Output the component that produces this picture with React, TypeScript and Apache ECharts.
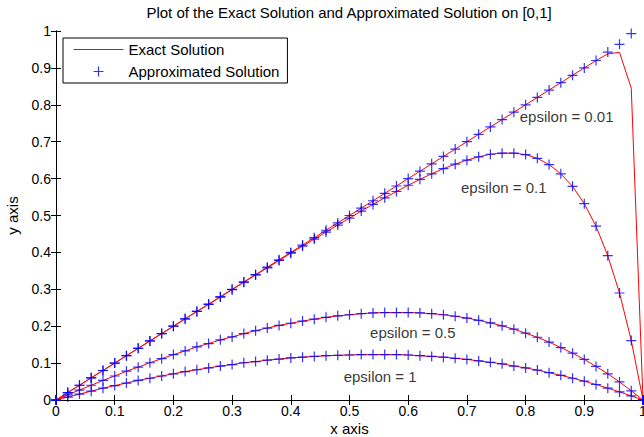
import React, { useEffect, useRef } from "react";
import * as echarts from "echarts";

const xs = [0, 0.02, 0.04, 0.06, 0.08, 0.1, 0.12, 0.14, 0.16, 0.18, 0.2, 0.22, 0.24, 0.26, 0.28, 0.3, 0.32, 0.34, 0.36, 0.38, 0.4, 0.42, 0.44, 0.46, 0.48, 0.5, 0.52, 0.54, 0.56, 0.58, 0.6, 0.62, 0.64, 0.66, 0.68, 0.7, 0.72, 0.74, 0.76, 0.78, 0.8, 0.82, 0.84, 0.86, 0.88, 0.9, 0.92, 0.94, 0.96, 0.98, 1];

const exact1 = [0, 0.008, 0.016, 0.024, 0.032, 0.039, 0.046, 0.053, 0.059, 0.065, 0.071, 0.077, 0.082, 0.087, 0.092, 0.096, 0.101, 0.104, 0.108, 0.111, 0.114, 0.116, 0.118, 0.12, 0.121, 0.122, 0.123, 0.123, 0.123, 0.123, 0.122, 0.12, 0.118, 0.116, 0.113, 0.11, 0.106, 0.102, 0.098, 0.092, 0.087, 0.081, 0.074, 0.067, 0.059, 0.051, 0.042, 0.032, 0.022, 0.011, 0];

const exact05 = [0, 0.014, 0.027, 0.04, 0.053, 0.065, 0.078, 0.089, 0.101, 0.112, 0.123, 0.133, 0.144, 0.153, 0.163, 0.171, 0.18, 0.188, 0.195, 0.202, 0.208, 0.214, 0.219, 0.224, 0.228, 0.231, 0.234, 0.236, 0.237, 0.237, 0.237, 0.236, 0.234, 0.231, 0.227, 0.222, 0.216, 0.209, 0.201, 0.192, 0.181, 0.17, 0.157, 0.142, 0.127, 0.11, 0.091, 0.071, 0.049, 0.025, 0];

const exact01 = [0, 0.02, 0.04, 0.06, 0.08, 0.1, 0.12, 0.14, 0.16, 0.18, 0.2, 0.22, 0.24, 0.259, 0.279, 0.299, 0.319, 0.339, 0.358, 0.378, 0.398, 0.417, 0.436, 0.455, 0.474, 0.493, 0.512, 0.53, 0.548, 0.565, 0.582, 0.598, 0.613, 0.627, 0.639, 0.65, 0.659, 0.666, 0.669, 0.669, 0.665, 0.655, 0.638, 0.613, 0.579, 0.532, 0.471, 0.391, 0.29, 0.161, 0];

const exact001 = [0, 0.02, 0.04, 0.06, 0.08, 0.1, 0.12, 0.14, 0.16, 0.18, 0.2, 0.22, 0.24, 0.26, 0.28, 0.3, 0.32, 0.34, 0.36, 0.38, 0.4, 0.42, 0.44, 0.46, 0.48, 0.5, 0.52, 0.54, 0.56, 0.58, 0.6, 0.62, 0.64, 0.66, 0.68, 0.7, 0.72, 0.74, 0.76, 0.78, 0.8, 0.82, 0.84, 0.86, 0.88, 0.9, 0.92, 0.938, 0.942, 0.845, 0];

const approx1 = exact1;
const approx05 = exact05;
const approx01 = exact01;
const approx001 = [0, 0.02, 0.04, 0.06, 0.08, 0.1, 0.12, 0.14, 0.16, 0.18, 0.2, 0.22, 0.24, 0.26, 0.28, 0.3, 0.32, 0.34, 0.36, 0.38, 0.4, 0.42, 0.44, 0.46, 0.48, 0.5, 0.52, 0.54, 0.56, 0.58, 0.6, 0.62, 0.64, 0.66, 0.68, 0.7, 0.72, 0.74, 0.76, 0.78, 0.8, 0.82, 0.84, 0.86, 0.88, 0.9, 0.92, 0.943, 0.964, 0.993, 0];

const annotTexts = ["epsilon = 0.01", "epsilon = 0.1", "epsilon = 0.5", "epsilon = 1"];
const annotX = [0.79, 0.69, 0.535, 0.49];
const annotY = [0.767, 0.577, 0.182, 0.065];

const FONT = "'Liberation Sans', Arial, sans-serif";
const PLUS = "path://M5,0L5,10M0,5L10,5";

function pairs(ys: number[]) {
  return xs.map((x, i) => [x, ys[i]]);
}

export default function App() {
  const ref = useRef<HTMLDivElement>(null);
  useEffect(() => {
    if (!ref.current) return;
    const chart = echarts.init(ref.current, undefined, { renderer: "svg" });
    const exacts = [exact1, exact05, exact01, exact001];
    const approxs = [approx1, approx05, approx01, approx001];
    const lineSeries = exacts.map((ys) => ({
      type: "line",
      name: "Exact Solution",
      data: pairs(ys),
      symbol: "none",
      showSymbol: false,
      lineStyle: { color: "#ff0000", width: 1 },
      itemStyle: { color: "#ff0000" },
      silent: true,
      z: 2,
    }));
    const scatterSeries = approxs.map((ys) => ({
      type: "scatter",
      name: "Approximated Solution",
      data: pairs(ys),
      symbol: PLUS,
      symbolSize: 10,
      symbolKeepAspect: true,
      itemStyle: { color: "transparent", borderColor: "#0000ff", borderWidth: 1.2 },
      silent: true,
      clip: false,
      z: 3,
    }));
    const axisCommon = {
      type: "value",
      min: 0,
      max: 1,
      interval: 0.1,
      axisLine: { show: true, lineStyle: { color: "#000", width: 1 } },
      axisTick: { show: true, inside: true, length: 5, lineStyle: { color: "#000" } },
      splitLine: { show: false },
    };
    chart.setOption({
      animation: false,
      backgroundColor: "#fff",
      textStyle: { fontFamily: FONT },
      title: {
        text: "Plot of the Exact Solution and Approximated Solution on [0,1]",
        left: 349,
        top: 5,
        padding: 0,
        textAlign: "center",
        textStyle: { fontFamily: FONT, fontSize: 15, fontWeight: "normal", color: "#000" },
      },
      legend: {
        data: [
          {
            name: "Exact Solution",
            icon: "line",
            itemStyle: { color: "#ff0000", borderColor: "#ff0000", borderWidth: 1 },
          },
          { name: "Approximated Solution" },
        ],
        orient: "vertical",
        left: 63,
        top: 38,
        padding: [4, 8, 4, 10],
        itemGap: 7,
        itemWidth: 50,
        itemHeight: 10,
        backgroundColor: "#fff",
        borderColor: "#000",
        borderWidth: 1,
        selectedMode: false,
        lineStyle: { width: 1 },
        itemStyle: { borderWidth: 1.2 },
        textStyle: { fontFamily: FONT, fontSize: 15, color: "#000" },
      },
      grid: {
        left: 56,
        right: 1,
        top: 31,
        bottom: 37,
        containLabel: false,
        outerBoundsMode: "none",
      },
      xAxis: [
        {
          ...axisCommon,
          position: "bottom",
          name: "x axis",
          nameLocation: "middle",
          nameGap: 21,
          nameMoveOverlap: false,
          nameTextStyle: { fontFamily: FONT, fontSize: 15, color: "#000" },
          axisLabel: { show: true, margin: 4, fontFamily: FONT, fontSize: 14, color: "#000" },
        },
        { ...axisCommon, position: "top", axisLabel: { show: false } },
      ],
      yAxis: [
        {
          ...axisCommon,
          position: "left",
          name: "y axis",
          nameLocation: "middle",
          nameGap: 36,
          nameMoveOverlap: false,
          nameTextStyle: { fontFamily: FONT, fontSize: 15, color: "#000" },
          axisLabel: { show: true, margin: 5, fontFamily: FONT, fontSize: 14, color: "#000" },
        },
        { ...axisCommon, position: "right", axisLabel: { show: false } },
      ],
      series: [
        ...lineSeries,
        ...scatterSeries,
        {
          type: "scatter",
          name: "annotations",
          data: annotTexts.map((t, i) => ({ name: t, value: [annotX[i], annotY[i]] })),
          symbolSize: 0,
          silent: true,
          z: 4,
          label: {
            show: true,
            position: "right",
            distance: 0,
            formatter: "{b}",
            fontFamily: FONT,
            fontSize: 15,
            color: "#000",
          },
        },
      ],
    });
    return () => chart.dispose();
  }, []);
  return (
    <div
      ref={ref}
      style={{ position: "fixed", left: 0, top: 0, width: 644, height: 437, background: "#fff" }}
    />
  );
}
